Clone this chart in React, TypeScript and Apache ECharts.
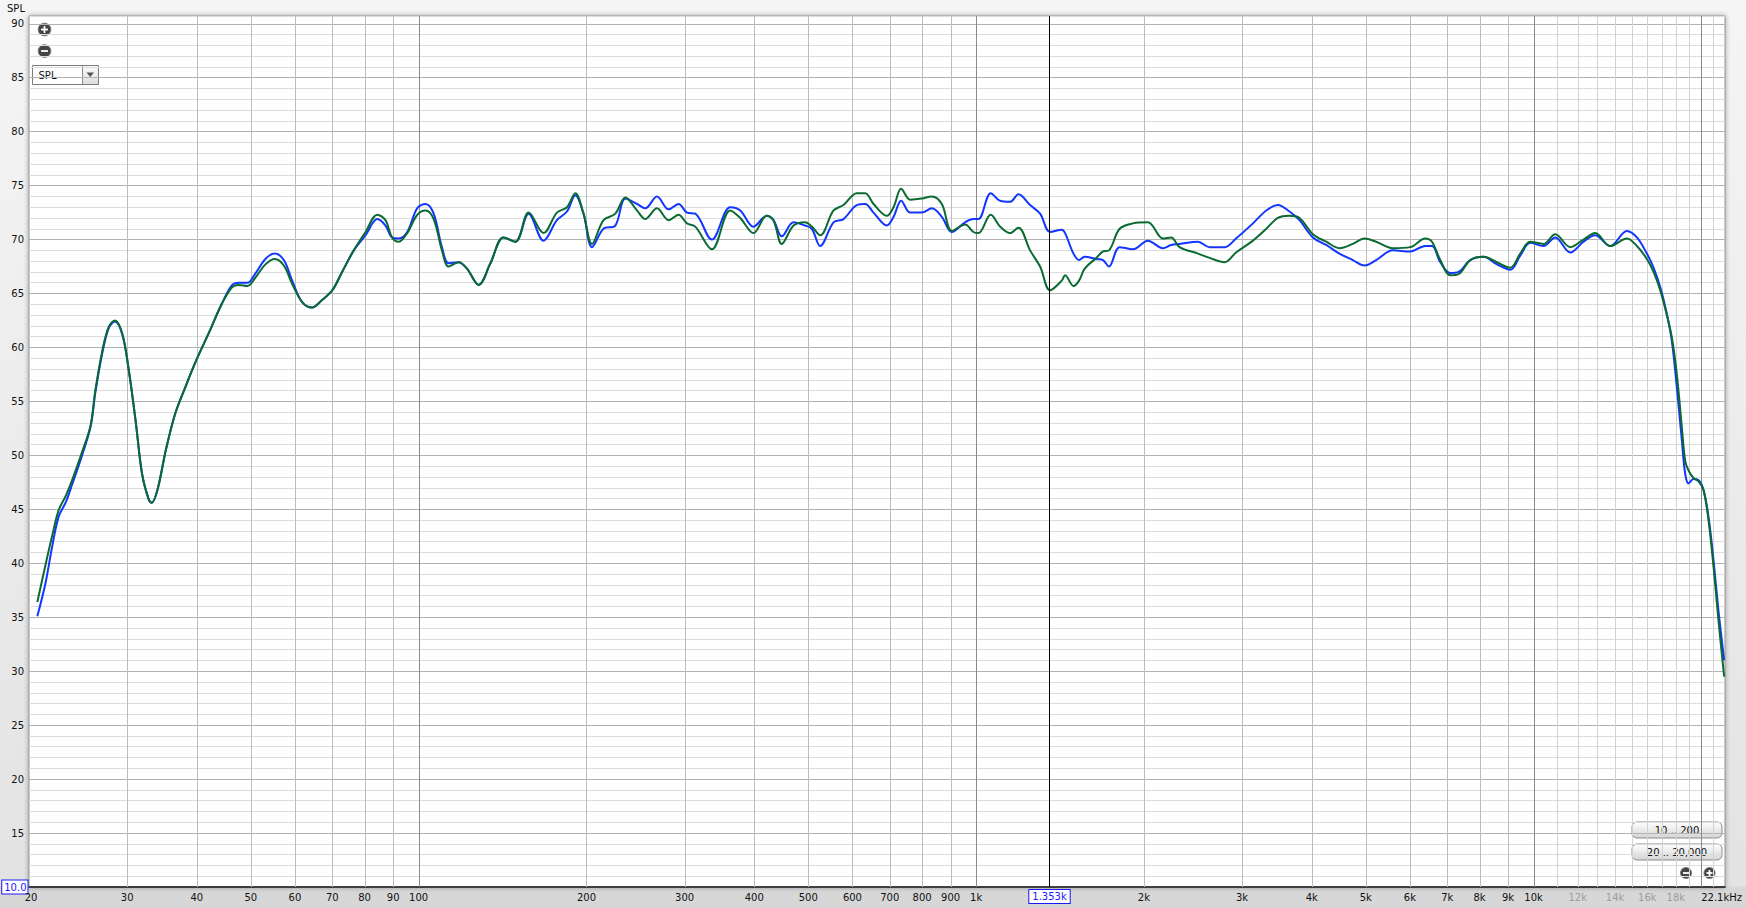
import React, { useEffect, useRef } from 'react';
import * as echarts from 'echarts';

// ---- data ----
const freqs = [
  20.7, 21.4, 22.0, 22.6, 23.3, 23.9, 24.9, 25.8, 26.3, 27.1, 27.8, 28.5, 29.4, 30.2, 31.1, 31.9, 32.8, 33.2, 34.0,
  35.2, 36.6, 38.2, 39.9, 42.0, 44.4, 46.3, 47.6, 49.3, 51.0, 53.1, 55.2, 57.3, 59.3, 61.8, 64.4, 67.1, 70.0, 72.9,
  76.5, 80.3, 84.3, 87.2, 89.6, 92.1, 95.4, 99.4, 102.9, 106.4, 110.1, 113.2, 118.0, 122.1, 128.1, 134.5, 142.0,
  149.1, 157.5, 167.5, 177.0, 184.5, 191.0, 197.6, 204.6, 214.6, 225.3, 234.9, 246.4, 255.0, 267.6, 280.8, 292.6,
  302.9, 313.5, 335.7, 362.2, 377.5, 398.7, 421.2, 433.0, 448.1, 470.5, 493.6, 507.4, 525.2, 554.9, 578.3, 610.9,
  632.3, 654.6, 691.6, 711.0, 733.8, 761.5, 799.0, 832.8, 868.0, 904.5, 955.6, 989.0, 1009.7, 1062.4, 1104.2,
  1150.6, 1191.0, 1249.8, 1302.6, 1357.5, 1424.4, 1444.3, 1495, 1530, 1566, 1643, 1689, 1731, 1809, 1911, 2033,
  2163, 2238, 2317, 2500, 2624, 2791, 2926, 3138, 3315, 3478, 3649, 3803, 4019, 4246, 4485, 4740, 4974, 5219, 5592,
  6009, 6393, 6572, 6803, 7088, 7336, 7699, 8134, 8597, 9082, 9464, 9863, 10422, 10936, 11637, 12293, 12898, 13724,
  14705, 15323, 15969, 16414, 16873, 17342, 17705, 18072, 18450, 18707, 18967, 19362, 19767, 20178, 20598, 21027,
  21463, 21972,
];
const blueSPL = [
  35.1, 38.1, 41.5, 44.3, 45.7, 47.3, 50.0, 52.7, 55.8, 59.6, 61.8, 62.4, 61.2, 57.9, 53.0, 48.3, 45.9, 45.6, 46.8,
  50.5, 53.9, 56.4, 58.8, 61.3, 64.1, 65.8, 66.0, 66.0, 66.9, 68.2, 68.7, 68.1, 66.2, 64.2, 63.7, 64.4, 65.3, 67.0,
  69.0, 70.4, 71.9, 71.3, 70.2, 70.1, 70.7, 72.9, 73.3, 72.4, 69.3, 67.8, 67.9, 67.3, 65.8, 67.8, 70.2,
  69.8, 72.4, 69.9, 71.8, 72.6, 74.1, 72.4, 69.3, 71.0, 71.3, 73.8, 73.3, 72.9, 74.0, 72.8, 73.3,
  72.5, 72.4, 70.0, 73.0, 72.7, 71.2, 72.2, 71.8, 70.3, 71.6, 71.3, 71.0, 69.4, 71.6, 71.9, 73.2,
  73.3, 72.5, 71.3, 72.1, 73.6, 72.5, 72.5, 72.9, 72.1, 70.7, 71.6, 71.9, 71.9, 74.3, 73.6,
  73.5, 74.2, 73.2, 72.4, 70.7, 70.9, 70.6, 68.7, 68.1, 68.4, 68.2, 68.1, 67.5, 69.3, 69.1, 69.9,
  69.2, 69.5, 69.6, 69.8, 69.3, 69.3, 70.1, 71.5, 72.7, 73.2, 72.6, 71.8, 70.2, 69.5, 68.7, 68.1, 67.6, 68.1, 69.0,
  68.9, 69.4, 69.4, 67.9, 66.9, 67.0, 68.1, 68.4, 67.7, 67.2, 68.5, 69.7, 69.4, 70.2, 68.8, 69.8, 70.4, 69.4,
  70.8, 70.2, 68.7, 67.4, 65.6, 63.1, 60.6, 56.3, 51.4, 48.3, 47.4, 47.8, 47.7, 46.8, 44.3, 40.3,
  35.6, 31.0,
];
const greenSPL = [
  36.4, 39.8, 42.5, 44.9, 46.3, 47.7, 50.3, 52.8, 56.0, 59.8, 61.9, 62.5, 61.3, 57.9, 53.0, 48.3, 45.9, 45.6, 46.8,
  50.5, 53.9, 56.4, 58.8, 61.3, 64.1, 65.6, 65.8, 65.7, 66.5, 67.7, 68.2, 67.6, 65.9, 64.2, 63.7, 64.4, 65.3, 67.0,
  69.0, 70.7, 72.3, 71.8, 70.2, 69.8, 70.6, 72.3, 72.7, 71.9, 69.0, 67.5, 67.9, 67.3, 65.8, 67.8, 70.2,
  69.8, 72.5, 70.6, 72.5, 73.0, 74.3, 72.4, 69.6, 71.8, 72.4, 73.9, 72.7, 71.9, 72.9, 71.8, 72.3,
  71.5, 71.2, 69.1, 72.7, 72.0, 70.6, 72.2, 71.8, 69.6, 71.3, 71.6, 71.2, 70.4, 72.7, 73.2, 74.3,
  74.3, 73.3, 72.2, 73.0, 74.7, 73.7, 73.8, 74.0, 73.3, 70.8, 71.4, 70.7, 70.6, 72.3, 71.2,
  70.6, 71.1, 69.0, 67.5, 65.3, 66.2, 66.7, 65.7, 66.2, 67.3, 68.3, 68.9, 69.0, 71.0, 71.5, 71.6,
  70.1, 70.2, 69.3, 68.7, 68.3, 67.9, 68.8, 69.9, 71.0, 72.0, 72.2, 72.0, 70.5, 69.8, 69.2, 69.6, 70.1, 69.8, 69.2,
  69.3, 70.1, 69.8, 68.1, 66.7, 66.8, 68.1, 68.4, 67.9, 67.4, 68.7, 69.8, 69.6, 70.5, 69.3, 70.0, 70.6, 69.4,
  70.1, 69.4, 68.2, 67.0, 65.3, 63.0, 60.9, 57.5, 52.6, 49.5, 48.6, 47.9, 47.6, 46.8, 44.0, 39.7,
  34.7, 29.5,
];

const yMin = 10;
const yMax = 90.72;
const xMin = 20;
const xMax = 22050;

const gridFreqs = [
  30, 40, 50, 60, 70, 80, 90, 100, 200, 300, 400, 500, 600, 700, 800, 900, 1000, 2000, 3000, 4000, 5000, 6000,
  7000, 8000, 9000, 10000, 11000, 12000, 13000, 14000, 15000, 16000, 17000, 18000, 19000, 20000, 21000,
];
const decadeFreqs = [100, 1000, 10000, 20000];
const tickFreqs = [
  20, 30, 40, 50, 60, 70, 80, 90, 100, 200, 300, 400, 500, 600, 700, 800, 900, 1000, 2000, 3000, 4000, 5000, 6000,
  7000, 8000, 9000, 10000, 12000, 14000, 16000, 18000, 22050,
];
const tickLabels = [
  '20', '30', '40', '50', '60', '70', '80', '90', '100', '200', '300', '400', '500', '600', '700', '800', '900',
  '1k', '2k', '3k', '4k', '5k', '6k', '7k', '8k', '9k', '10k', '12k', '14k', '16k', '18k', '22.1kHz',
];
const mutedLabels = ['12k', '14k', '16k', '18k'];
const cursorFreq = 1353;
const cursorLabel = '1.353k';
const yTitle = 'SPL';
const rangeButtons = ['10 .. 200', '20 .. 20,000'];

const FONT = '"DejaVu Sans", "Noto Sans", sans-serif';
const lg = (f: number) => Math.log10(f);

function zoomIcon(cx: number, cy: number, plus: boolean, r: number) {
  const children: any[] = [
    { type: 'circle', shape: { cx, cy, r }, style: { fill: '#444', stroke: '#7a7a7a', lineWidth: 1 } },
    { type: 'line', shape: { x1: cx - r * 0.55, y1: cy, x2: cx + r * 0.55, y2: cy }, style: { stroke: '#fff', lineWidth: 1.8 } },
  ];
  if (plus) {
    children.push({ type: 'line', shape: { x1: cx, y1: cy - r * 0.55, x2: cx, y2: cy + r * 0.55 }, style: { stroke: '#fff', lineWidth: 1.8 } });
  }
  return { type: 'group', silent: true, children };
}

function button(x: number, y: number, w: number, h: number, label: string) {
  return {
    type: 'group',
    silent: true,
    children: [
      {
        type: 'rect',
        shape: { x, y, width: w, height: h, r: 5 },
        style: {
          fill: new echarts.graphic.LinearGradient(0, 0, 0, 1, [
            { offset: 0, color: '#fefefe' },
            { offset: 1, color: '#d6d6d6' },
          ]),
          stroke: '#8a8a8a',
          lineWidth: 1,
        },
      },
      {
        type: 'text',
        style: { x: x + w / 2, y: y + h / 2 + 0.5, text: label, fill: '#111', font: `10px ${FONT}`, align: 'center', verticalAlign: 'middle' },
      },
    ],
  };
}

export default function App() {
  const ref = useRef<HTMLDivElement>(null);

  useEffect(() => {
    if (!ref.current) return;
    const chart = echarts.init(ref.current, undefined, { renderer: 'svg' });

    const option: any = {
      animation: false,
      backgroundColor: 'transparent',
      grid: {
        left: 29,
        top: 16,
        width: 1696,
        height: 871,
        containLabel: false,
        outerBoundsMode: 'none',
        show: true,
        backgroundColor: '#ffffff',
        borderColor: '#8f8f8f',
        borderWidth: 1,
        shadowColor: 'rgba(0,0,0,0.35)',
        shadowBlur: 5,
      },
      xAxis: {
        // frequencies are plotted on a log10 scale
        type: 'value',
        min: lg(xMin),
        max: lg(xMax),
        axisLabel: { show: false },
        axisTick: { show: false },
        splitLine: { show: false },
        axisLine: { show: true, onZero: false, lineStyle: { color: '#151515', width: 1.5 } },
      },
      yAxis: {
        type: 'value',
        min: yMin,
        max: yMax,
        interval: 1,
        axisLine: { show: false },
        axisTick: { show: false },
        axisLabel: {
          margin: 1.5,
          fontSize: 10,
          fontFamily: FONT,
          color: '#111',
          formatter: (v: number) => {
            if (Math.abs(v - yMin) < 1e-6) return '{b|10.0}';
            if (Math.abs(v - Math.round(v)) < 1e-6 && Math.round(v) % 5 === 0) return '{n|' + Math.round(v) + '}';
            return '';
          },
          rich: {
            n: {
              color: '#111',
              fontSize: 10,
              fontFamily: FONT,
              padding: [0, 3.5, 0, 0],
            },
            b: {
              color: '#1a1aff',
              borderColor: '#1a1aff',
              borderWidth: 1,
              backgroundColor: '#ffffff',
              padding: [2, 1, 1, 2],
              fontSize: 10,
              fontFamily: FONT,
            },
          },
        },
        splitLine: {
          show: true,
          lineStyle: { color: ['#b2b2b2', '#dcdcdc', '#dcdcdc', '#dcdcdc', '#dcdcdc'], width: 1 },
        },
      },
      series: [
        {
          type: 'custom',
          name: 'vgrid',
          silent: true,
          clip: false,
          z: 1,
          data: gridFreqs.map((f) => [lg(f), yMin]),
          renderItem: (params: any, api: any) => {
            const f = gridFreqs[params.dataIndex];
            const b = api.coord([lg(f), yMin]);
            const t = api.coord([lg(f), yMax]);
            const x = Math.round(b[0]) + 0.5;
            const strong = decadeFreqs.indexOf(f) >= 0;
            const faint = f > 10000 && !strong;
            return {
              type: 'line',
              shape: { x1: x, y1: b[1], x2: x, y2: t[1] },
              style: { stroke: strong ? '#8a8a8a' : faint ? '#d2d2d2' : '#bcbcbc', lineWidth: 1 },
            };
          },
        },
        {
          type: 'custom',
          name: 'xlabels',
          silent: true,
          clip: false,
          z: 6,
          data: tickFreqs.map((f) => [lg(f), yMin]),
          renderItem: (params: any, api: any) => {
            const i = params.dataIndex;
            const p = api.coord([lg(tickFreqs[i]), yMin]);
            const label = tickLabels[i];
            const last = i === tickFreqs.length - 1;
            return {
              type: 'text',
              style: {
                x: last ? p[0] + 17 : p[0] + (i === 0 ? 2 : 0),
                y: p[1] + 10,
                text: label,
                fill: mutedLabels.indexOf(label) >= 0 ? '#9c9c9c' : '#111',
                font: `10px ${FONT}`,
                align: last ? 'right' : 'center',
                verticalAlign: 'middle',
              },
            };
          },
        },
        {
          type: 'line',
          name: 'blue',
          data: freqs.map((f, i) => [lg(f), blueSPL[i]]),
          symbol: 'none',
          showSymbol: false,
          smooth: 0.35,
          lineStyle: { color: '#1236ff', width: 2 },
          z: 3,
        },
        {
          type: 'line',
          name: 'green',
          data: freqs.map((f, i) => [lg(f), greenSPL[i]]),
          symbol: 'none',
          showSymbol: false,
          smooth: 0.35,
          lineStyle: { color: '#0b6a32', width: 2 },
          z: 4,
        },
        {
          type: 'custom',
          name: 'cursor',
          silent: true,
          clip: false,
          z: 7,
          data: [[lg(cursorFreq), yMin]],
          renderItem: (params: any, api: any) => {
            const b = api.coord([lg(cursorFreq), yMin]);
            const t = api.coord([lg(cursorFreq), yMax]);
            const x = Math.round(b[0]) + 0.5;
            return {
              type: 'group',
              children: [
                { type: 'line', shape: { x1: x, y1: b[1], x2: x, y2: t[1] }, style: { stroke: '#000', lineWidth: 1 } },
                {
                  type: 'text',
                  style: {
                    x: x,
                    y: b[1] + 9.5,
                    text: cursorLabel,
                    fill: '#1a1aff',
                    font: `10px ${FONT}`,
                    align: 'center',
                    verticalAlign: 'middle',
                    backgroundColor: '#ffffff',
                    borderColor: '#1a1aff',
                    borderWidth: 1,
                    padding: [2, 3, 1, 3],
                  },
                },
              ],
            };
          },
        },
      ],
      graphic: [
        {
          type: 'text',
          silent: true,
          style: { x: 7, y: 8, text: yTitle, fill: '#111', font: `10px ${FONT}`, align: 'left', verticalAlign: 'middle' },
        },
        zoomIcon(44.5, 29.5, true, 6.3),
        zoomIcon(44.5, 51, false, 6.3),
        {
          type: 'group',
          silent: true,
          children: [
            { type: 'rect', shape: { x: 32.5, y: 65.5, width: 66, height: 19 }, style: { fill: '#fff', stroke: '#7c7c7c', lineWidth: 1 } },
            {
              type: 'rect',
              shape: { x: 82.5, y: 66, width: 15.5, height: 18 },
              style: {
                fill: new echarts.graphic.LinearGradient(0, 0, 0, 1, [
                  { offset: 0, color: '#fafafa' },
                  { offset: 1, color: '#dedede' },
                ]),
              },
            },
            { type: 'line', shape: { x1: 82.5, y1: 66, x2: 82.5, y2: 84 }, style: { stroke: '#8a8a8a', lineWidth: 1 } },
            { type: 'polygon', shape: { points: [[86.5, 72.5], [94, 72.5], [90.25, 77]] }, style: { fill: '#555' } },
            { type: 'text', style: { x: 38.5, y: 75.5, text: yTitle, fill: '#111', font: `10px ${FONT}`, align: 'left', verticalAlign: 'middle' } },
          ],
        },
        button(1632, 822, 90, 16, rangeButtons[0]),
        button(1632, 844, 90, 16, rangeButtons[1]),
        zoomIcon(1686, 873, false, 5.5),
        zoomIcon(1709.5, 873, true, 5.5),
      ],
    };

    chart.setOption(option);
    return () => {
      chart.dispose();
    };
  }, []);

  return (
    <div
      style={{
        position: 'fixed',
        left: 0,
        top: 0,
        width: 1746,
        height: 908,
        background: 'linear-gradient(to bottom, #f5f5f5 0px, #e3e3e3 886px, #d8d8d8 887px, #d6d6d6 908px)',
      }}
    >
      <div ref={ref} style={{ width: 1746, height: 908 }} />
    </div>
  );
}
